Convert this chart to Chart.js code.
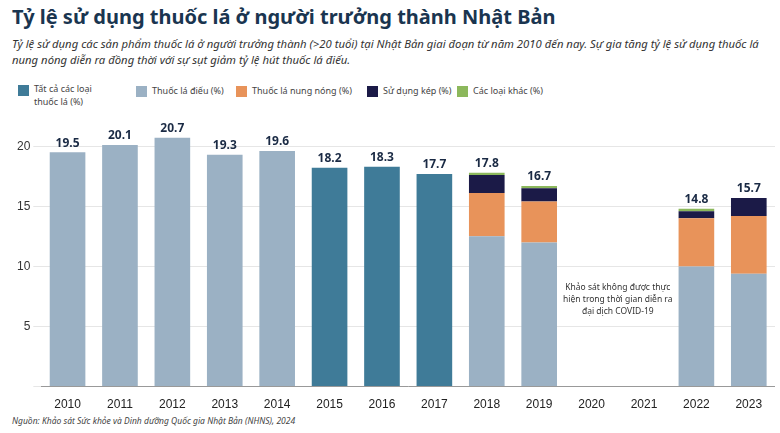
<!DOCTYPE html>
<html><head><meta charset="utf-8">
<script src="https://cdn.jsdelivr.net/npm/chart.js@4/dist/chart.umd.min.js"></script>
<style>
body{margin:0;width:780px;height:433px;background:#fff;font-family:"Noto Sans",sans-serif;position:relative;overflow:hidden}
#t{position:absolute;left:12px;top:3px;font-size:20px;font-weight:700;color:#1a3550}
#s{position:absolute;left:12px;top:36px;width:760px;font-size:11.3px;font-style:italic;color:#333;line-height:16px}
#lg{position:absolute;top:82px;left:0;width:780px;font-size:9px;color:#444}
.li{position:absolute;display:flex;align-items:flex-start}
.sw{width:11px;height:11px;margin-right:5px;margin-top:3px;flex:none}
#c{position:absolute;left:0;top:112px;width:775px;height:303px}
#src{position:absolute;left:12px;top:415px;font-size:8.5px;font-style:italic;color:#444}
</style></head><body>
<div id="t">Tỷ lệ sử dụng thuốc lá ở người trưởng thành Nhật Bản</div>
<div id="s">Tỷ lệ sử dụng các sản phẩm thuốc lá ở người trưởng thành (&gt;20 tuổi) tại Nhật Bản giai đoạn từ năm 2010 đến nay. Sự gia tăng tỷ lệ sử dụng thuốc lá nung nóng diễn ra đồng thời với sự sụt giảm tỷ lệ hút thuốc lá điếu.</div>
<div id="lg">
<div class="li" style="left:18px"><div class="sw" style="background:#3f7b98"></div><div>Tất cả các loại<br>thuốc lá (%)</div></div>
<div class="li" style="left:136px"><div class="sw" style="background:#9bb1c4;margin-top:4px"></div><div style="margin-top:2px">Thuốc lá điếu (%)</div></div>
<div class="li" style="left:236px"><div class="sw" style="background:#e8935a;margin-top:4px"></div><div style="margin-top:2px">Thuốc lá nung nóng (%)</div></div>
<div class="li" style="left:367px"><div class="sw" style="background:#1b1a47;margin-top:4px"></div><div style="margin-top:2px">Sử dụng kép (%)</div></div>
<div class="li" style="left:457px"><div class="sw" style="background:#8cb85c;margin-top:4px"></div><div style="margin-top:2px">Các loại khác (%)</div></div>
</div>
<div id="c"><canvas id="cv"></canvas></div>
<div id="src">Nguồn: Khảo sát Sức khỏe và Dinh dưỡng Quốc gia Nhật Bản (NHNS), 2024</div>
<script>
const years=["2010","2011","2012","2013","2014","2015","2016","2017","2018","2019","2020","2021","2022","2023"];
const allTobacco=[null,null,null,null,null,18.2,18.3,17.7,null,null,null,null,null,null];
const cigarettes=[19.5,20.1,20.7,19.3,19.6,null,null,null,12.5,12.0,null,null,10.0,9.4];
const heated=[null,null,null,null,null,null,null,null,3.6,3.4,null,null,4.0,4.8];
const dual=[null,null,null,null,null,null,null,null,1.5,1.1,null,null,0.6,1.5];
const other=[null,null,null,null,null,null,null,null,0.2,0.2,null,null,0.2,null];
const totals=[19.5,20.1,20.7,19.3,19.6,18.2,18.3,17.7,17.8,16.7,null,null,14.8,15.7];
const yTicks=[0,5,10,15,20];
const note=["Khảo sát không được thực","hiện trong thời gian diễn ra","đại dịch COVID-19"];
const ds=(l,d,c)=>({label:l,data:d,backgroundColor:c,stack:"s",categoryPercentage:0.8,barPercentage:0.85});
const topPlugin={id:"tp",afterDatasetsDraw(ch){const c=ch.ctx,x=ch.scales.x,y=ch.scales.y;
c.save();c.font="bold 12px 'Noto Sans'";c.fillStyle="#1a2a44";c.textAlign="center";c.textBaseline="bottom";
totals.forEach((v,i)=>{if(v!=null)c.fillText(v.toFixed(1),x.getPixelForValue(i),y.getPixelForValue(v)-3);});
c.font="8.5px 'Noto Sans'";c.fillStyle="#333";c.textBaseline="middle";
const cx=(x.getPixelForValue(10)+x.getPixelForValue(11))/2;
note.forEach((t,k)=>c.fillText(t,cx,y.getPixelForValue(8.2)+k*12));c.restore();}};
new Chart(document.getElementById("cv"),{type:"bar",
data:{labels:years,datasets:[ds("Tất cả",allTobacco,"#3f7b98"),ds("Điếu",cigarettes,"#9bb1c4"),ds("Nung nóng",heated,"#e8935a"),ds("Kép",dual,"#1b1a47"),ds("Khác",other,"#8cb85c")]},
options:{responsive:true,maintainAspectRatio:false,animation:false,
layout:{padding:{top:0,left:14}},
plugins:{legend:{display:false},tooltip:{enabled:false}},
scales:{x:{stacked:true,grid:{display:false},border:{color:"#999"},ticks:{color:"#222",font:{size:12}}},
y:{stacked:true,min:0,max:22,afterBuildTicks:a=>{a.ticks=yTicks.map(v=>({value:v}));},ticks:{color:"#333",font:{size:12},callback:v=>v===0?"":v},grid:{color:"#e6e6e6"},border:{display:false}}}},
plugins:[topPlugin]});
</script>
</body></html>
